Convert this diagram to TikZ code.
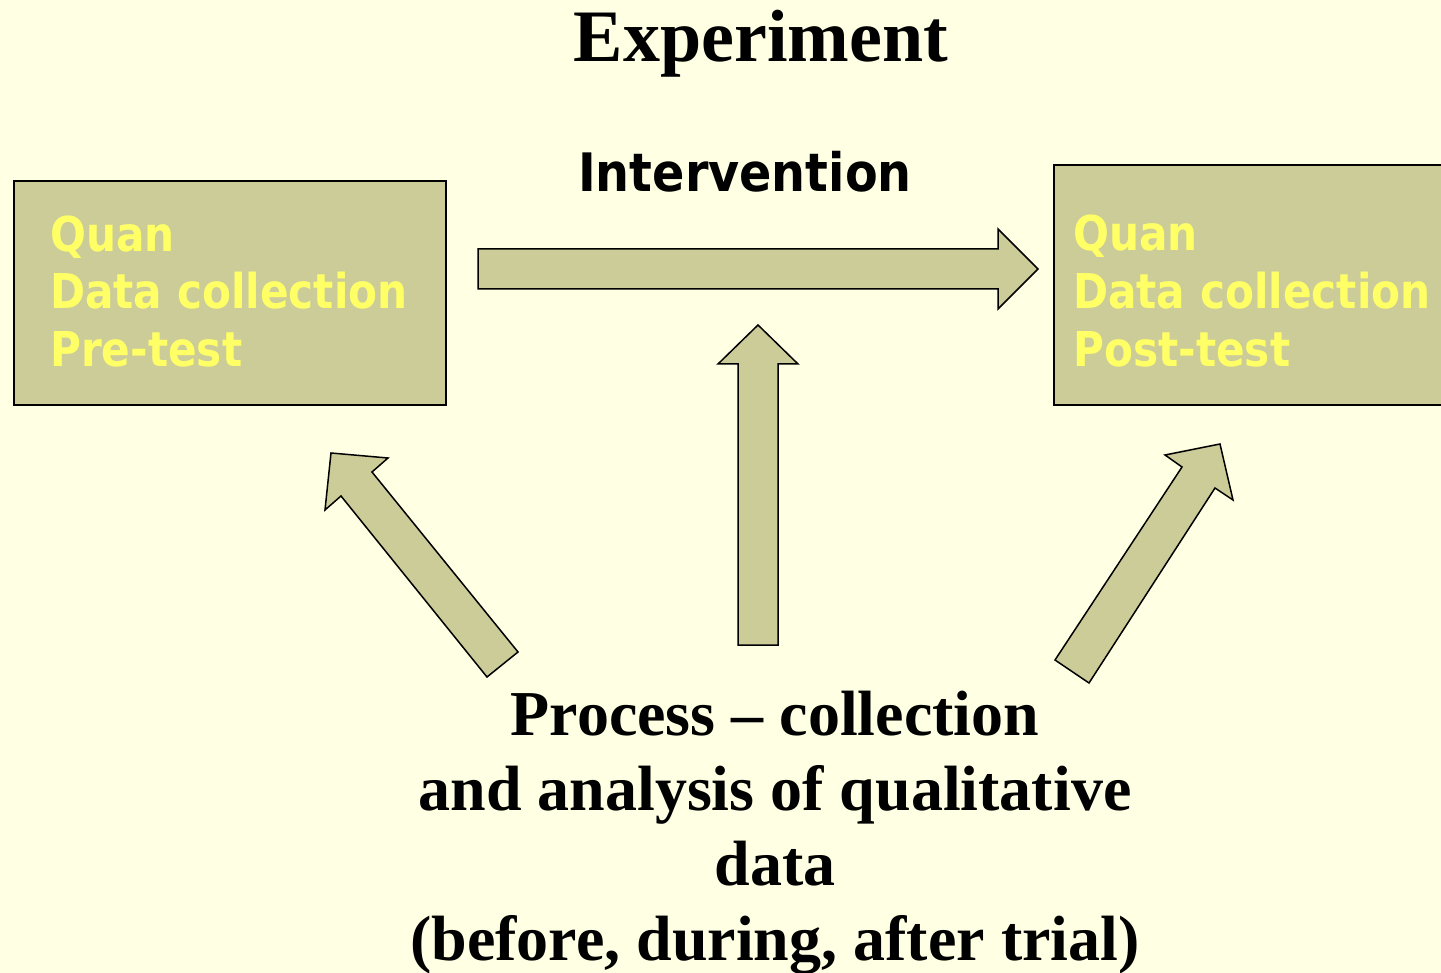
\documentclass[tikz,border=0pt]{standalone}
\usepackage{fontspec}
\usepackage{graphicx}
\setmainfont{Liberation Serif}
\newfontfamily\boxfont{DejaVu Sans}
\definecolor{bg}{HTML}{FFFFE3}
\definecolor{khaki}{HTML}{CCCC99}
\definecolor{ylw}{HTML}{FFFF66}
\newcommand{\sqz}[1]{\scalebox{0.88}[1]{#1}}
\tikzset{
  panel/.style={draw=black, line width=1.5pt, fill=khaki},
  blockarrow/.style={draw=black, line width=1.5pt, fill=khaki, line join=miter},
  boxtext/.style={anchor=base west, inner sep=0pt, text=ylw, font=\boxfont\bfseries\fontsize{48}{58}\selectfont},
  serifbig/.style={anchor=base, inner sep=0pt, font=\bfseries\fontsize{64}{75}\selectfont}
}
\begin{document}
\begin{tikzpicture}[x=1pt,y=-1pt]
\useasboundingbox (0,0) rectangle (1441,973);
\clip (0,0) rectangle (1441,973);
\fill[bg] (0,0) rectangle (1441,973);
% boxes
\draw[panel] (14,181) rectangle (446,405);
\draw[panel] (1054,165) rectangle (1470,405);
\node[boxtext] (l1) at (50,252) {\sqz{Quan}};
\node[boxtext] (l2) at (50,309) {\sqz{Data collection}};
\node[boxtext] (l3) at (50,367) {\sqz{Pre-test}};
\node[boxtext] (r1) at (1073,251) {\sqz{Quan}};
\node[boxtext] (r2) at (1073,309) {\sqz{Data collection}};
\node[boxtext] (r3) at (1073,367) {\sqz{Post-test}};
% title
\node[anchor=base, inner sep=0pt, font=\bfseries\fontsize{74}{80}\selectfont] (title) at (761,62) {Experiment};
\node[anchor=base, inner sep=0pt, font=\boxfont\bfseries\fontsize{53}{60}\selectfont] (interv) at (745,192) {\scalebox{0.9}[1]{Intervention}};
% horizontal arrow
\draw[blockarrow] (478,249) -- (998,249) -- (998,229) -- (1038,269) -- (998,309) -- (998,289) -- (478,289) -- cycle;
% vertical arrow
\draw[blockarrow] (738,645) -- (738,364) -- (718,364) -- (758,325) -- (798,364) -- (778,364) -- (778,645) -- cycle;
% left diagonal arrow
\draw[blockarrow] (487,677) -- (341,496) -- (325,510) -- (331,453) -- (388,458) -- (372,472) -- (518,652) -- cycle;
% right diagonal arrow
\draw[blockarrow] (1055,660) -- (1182,467) -- (1165,455) -- (1220,444) -- (1233,500) -- (1215,488) -- (1089,683) -- cycle;
% bottom text
\node[serifbig] (p1) at (775,735) {Process -- collection};
\node[serifbig] (p2) at (775,810) {and analysis of qualitative};
\node[serifbig] (p3) at (775,885) {data};
\node[serifbig] (p4) at (775,960) {(before, during, after trial)};
\end{tikzpicture}
\end{document}
